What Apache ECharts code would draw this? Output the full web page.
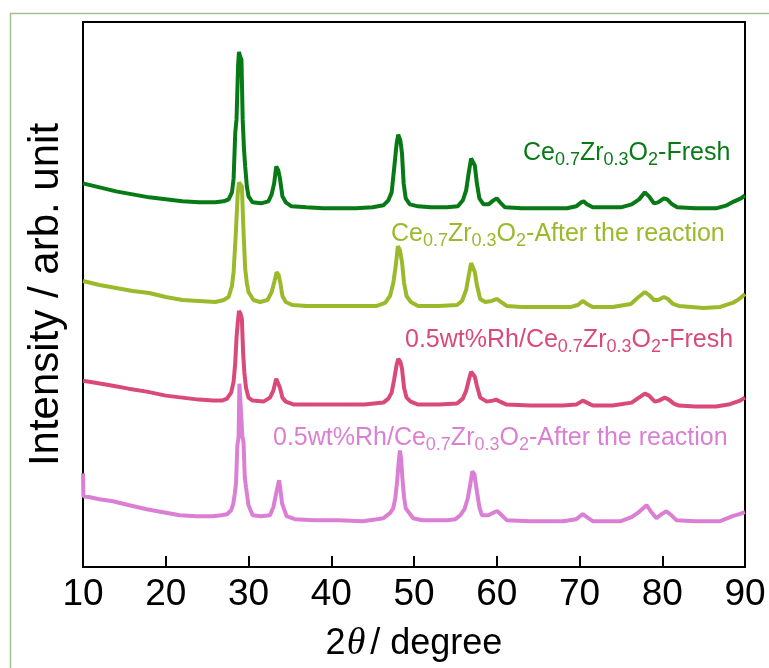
<!DOCTYPE html>
<html>
<head>
<meta charset="utf-8">
<script src="https://cdn.jsdelivr.net/npm/echarts@6/dist/echarts.min.js"></script>
<style>html,body{margin:0;padding:0;background:#fff;}#c{width:769px;height:668px;}</style>
</head>
<body>
<div id="c"></div>
<script>
// X ticks (2theta, degree)
var xTicks = [10, 20, 30, 40, 50, 60, 70, 80, 90];

// Series: [2theta, intensity (arb., stacked offset as displayed)]
var czFresh = [[10,385],[12,381],[14,377],[16,374],[18,371],[20,369],[22,367],[24,366],[26,366],[27,367],[27.6,369],[28.0,376],[28.2,390],[28.4,436],[28.55,449],[28.75,505],[28.85,517],[29.0,512],[29.15,509],[29.3,449],[29.45,420],[29.6,402],[29.8,382],[30.0,372],[30.5,366],[31.5,365],[32.4,367],[32.8,374],[33.1,385],[33.35,402],[33.6,398],[33.8,390],[34.1,372],[34.5,366],[35.2,362],[37,361],[39,360],[41,360],[43,360],[45,361],[46.3,363],[46.9,368],[47.3,376],[47.6,400],[47.9,425],[48.1,434],[48.35,428],[48.55,415],[48.75,385],[49.0,370],[49.5,364],[50.5,362],[52,361],[54,361],[55.3,362],[55.9,368],[56.3,378],[56.6,395],[56.9,410],[57.1,412],[57.35,403],[57.6,385],[57.9,370],[58.4,364],[59.0,364],[59.6,368],[60.0,370],[60.4,366],[61.0,361],[63,360],[66,360],[68.5,360],[69.6,362],[70.2,366],[70.5,367],[70.9,364],[71.6,361],[73,361],[75,361],[76.3,364],[77.2,369],[77.9,376],[78.4,372],[79.0,365],[79.5,366],[80.2,370],[80.6,369],[81.2,364],[81.8,361],[84,360],[86.5,360],[87.8,363],[88.7,367],[89.5,370],[90,373]];

var czAfter = [[10,287],[12,283],[14,280],[16,277],[18,275],[20,271],[22,268],[24,267],[26,266],[27,268],[27.6,271],[28.0,282],[28.2,296],[28.45,332],[28.7,375],[28.85,386],[29.05,384],[29.2,382],[29.4,336],[29.6,299],[29.8,285],[30.0,276],[30.6,268],[31.4,266],[32.3,268],[32.8,276],[33.15,287],[33.4,296],[33.65,293],[33.85,285],[34.1,272],[34.5,266],[35.3,263],[37,262],[40,262],[43,262],[45.5,262],[46.5,265],[47.1,272],[47.5,285],[47.8,303],[48.05,322],[48.3,318],[48.55,306],[48.8,285],[49.1,272],[49.6,266],[50.5,262],[53,262],[55.2,263],[55.8,267],[56.3,278],[56.6,292],[56.9,305],[57.1,306],[57.35,296],[57.6,283],[58.0,269],[58.6,266],[59.4,267],[60.0,269],[60.5,266],[61.2,262],[63,261],[66,261],[69,261],[69.8,263],[70.4,267],[70.9,264],[71.6,261],[74,261],[76.2,264],[77.0,270],[77.9,276],[78.4,273],[79.0,268],[79.5,268],[80.2,271],[80.7,269],[81.3,264],[82,262],[85,260],[87,261],[88.5,265],[89.3,269],[90,274]];

var rhFresh = [[10,187],[11.5,185],[13.6,182],[15.5,179],[17.7,176],[20,172],[22,170],[24,168],[25.7,167],[26.8,167],[27.4,169],[27.9,175],[28.2,186],[28.4,205],[28.55,230],[28.7,245],[28.85,257],[29.05,254],[29.2,249],[29.35,215],[29.5,195],[29.7,180],[30.0,170],[30.5,167],[31.8,166],[32.6,170],[33.0,177],[33.35,189],[33.55,189],[33.8,180],[34.1,170],[34.5,166],[35.5,163],[38,163],[41,163],[44,163],[46.3,165],[46.9,169],[47.3,175],[47.6,188],[47.9,203],[48.1,209],[48.35,206],[48.55,199],[48.8,180],[49.1,170],[49.6,166],[50.5,163],[53,163],[55.2,164],[55.9,169],[56.3,177],[56.6,187],[56.9,196],[57.1,196],[57.35,191],[57.6,182],[58.0,170],[58.8,166],[59.5,167],[59.9,168],[60.4,166],[61.2,163],[64,162],[68,162],[69.6,163],[70.4,167],[70.9,165],[71.6,162],[74,162],[76.3,165],[77.0,169],[77.9,174],[78.4,172],[79.1,166],[79.6,167],[80.3,170],[80.8,168],[81.4,164],[82,162],[84,161],[86.5,161],[88,163],[88.7,165],[89.4,167],[90,170]];

var rhAfter = [[10,94],[10.05,71],[10.85,70],[12,68],[13.6,66],[15.6,62],[17.7,58],[19.7,55],[21.7,52],[23.7,51],[25.7,51],[26.7,52],[27.4,53],[27.9,57],[28.15,63],[28.35,74],[28.5,85],[28.65,122],[28.8,130],[28.9,184],[29.1,184],[29.25,132],[29.4,125],[29.55,90],[29.7,80],[30.0,62],[30.5,52],[31.5,51],[32.6,52],[33.0,60],[33.25,70],[33.5,80],[33.7,87],[33.85,78],[34.05,64],[34.6,51],[35.6,48],[38,47],[41,47],[43.8,46],[45.5,48],[46.3,49],[47.1,54],[47.5,59],[47.75,70],[47.95,85],[48.15,105],[48.3,117],[48.45,108],[48.6,89],[48.8,70],[49.0,59],[49.9,49],[51,47],[54,47],[55.0,48],[55.6,52],[56.1,58],[56.5,69],[56.8,83],[57.05,96],[57.3,93],[57.6,76],[57.9,60],[58.2,52],[59.0,52],[59.7,55],[60.1,56],[60.6,52],[61.2,47],[64,46],[68,46],[69.6,48],[70.4,53],[70.9,50],[71.6,46],[75,46],[76.3,50],[77.0,54],[78.1,62],[78.6,56],[79.3,49],[79.9,53],[80.5,56],[81.1,52],[81.7,47],[84,46],[87,46],[88.5,51],[89.3,53],[90,55]];

var seriesNames = ['Ce0.7Zr0.3O2-Fresh', 'Ce0.7Zr0.3O2-After the reaction', '0.5wt%Rh/Ce0.7Zr0.3O2-Fresh', '0.5wt%Rh/Ce0.7Zr0.3O2-After the reaction'];
var seriesColors = ['#077a16', '#9aba2c', '#d94a7a', '#da7fd4'];
var seriesData = [czFresh, czAfter, rhFresh, rhAfter];

// Rich-text label strings (subscripts)
var labelTexts = [
  '{m|Ce}{s|0.7}{m|Zr}{s|0.3}{m|O}{s|2}{m|-Fresh}',
  '{m|Ce}{s|0.7}{m|Zr}{s|0.3}{m|O}{s|2}{m|-After the reaction}',
  '{m|0.5wt%Rh/Ce}{s|0.7}{m|Zr}{s|0.3}{m|O}{s|2}{m|-Fresh}',
  '{m|0.5wt%Rh/Ce}{s|0.7}{m|Zr}{s|0.3}{m|O}{s|2}{m|-After the reaction}'
];
var labelPos = [[523, 153], [391, 234], [405, 340], [273, 438]];

var FONT = 'Liberation Sans, Arial, sans-serif';
var chart = echarts.init(document.getElementById('c'), null, {renderer: 'canvas'});

var graphics = [{
  type: 'rect',
  shape: {x: 10.5, y: 13.5, width: 800, height: 700},
  style: {fill: 'none', stroke: '#a3c293', lineWidth: 1.5},
  silent: true, z: 0
}];
labelTexts.forEach(function (t, i) {
  graphics.push({
    type: 'text',
    x: labelPos[i][0], y: labelPos[i][1],
    z: 10,
    style: {
      text: t,
      align: 'left',
      verticalAlign: 'middle',
      rich: {
        m: {fontSize: 25, fontFamily: FONT, fill: seriesColors[i], lineHeight: 30},
        s: {fontSize: 18, fontFamily: FONT, fill: seriesColors[i], lineHeight: 22, padding: [14, 0, 0, 0]}
      }
    }
  });
});

var option = {
  animation: false,
  backgroundColor: '#fff',
  grid: {left: 83, right: 24, top: 22, bottom: 99, show: true, borderColor: '#000', borderWidth: 2, backgroundColor: 'transparent'},
  xAxis: {
    type: 'value', min: xTicks[0], max: xTicks[xTicks.length - 1], interval: 10,
    name: '{a|2}{b|θ}{a|/ degree}',
    nameLocation: 'middle', nameGap: 58,
    nameTextStyle: {
      rich: {
        a: {fontSize: 36, fontFamily: FONT, color: '#000'},
        b: {fontSize: 38, fontFamily: 'Liberation Serif, serif', fontStyle: 'italic', color: '#000', padding: [0, 5, 0, 1]}
      }
    },
    axisLine: {lineStyle: {color: '#000', width: 2}},
    axisTick: {inside: true, length: 11, lineStyle: {color: '#000', width: 2}},
    axisLabel: {fontSize: 37, fontFamily: FONT, color: '#000', margin: 9},
    splitLine: {show: false}
  },
  yAxis: {
    type: 'value', min: 0, max: 547,
    name: 'Intensity / arb. unit', nameLocation: 'middle', nameGap: 16, nameRotate: 90,
    nameTextStyle: {fontSize: 42, fontFamily: FONT, color: '#000'},
    axisLine: {show: true, lineStyle: {color: '#000', width: 2}},
    axisTick: {show: false}, axisLabel: {show: false}, splitLine: {show: false}
  },
  series: seriesData.map(function (d, i) {
    return {
      name: seriesNames[i], type: 'line', data: d, showSymbol: false, symbol: 'none',
      lineStyle: {color: seriesColors[i], width: 4}, z: 2 + i
    };
  }),
  graphic: graphics
};
chart.setOption(option);
</script>
</body>
</html>
